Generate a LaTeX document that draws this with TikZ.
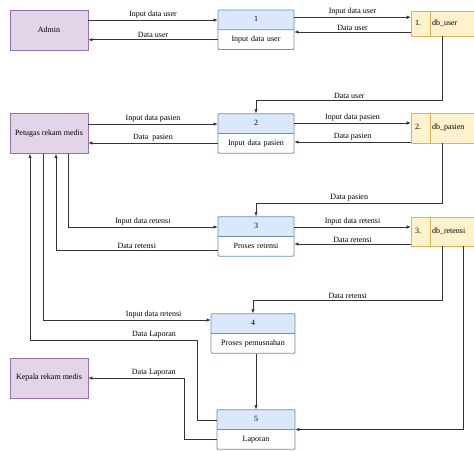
\documentclass[tikz,border=0pt]{standalone}
\usepackage{fontspec}
\setmainfont{Liberation Serif}
\usetikzlibrary{shapes.multipart,arrows.meta}
\definecolor{entfill}{HTML}{E1D5E7}
\definecolor{entline}{HTML}{9673A6}
\definecolor{procfill}{HTML}{DAE8FC}
\definecolor{procline}{HTML}{6C8EBF}
\definecolor{dsfill}{HTML}{FFF2CC}
\definecolor{dsline}{HTML}{D6B656}
\newcommand{\fs}{\fontsize{8}{9.6}\selectfont}

\begin{document}
\begin{tikzpicture}[
    x=1pt, y=-1pt,
    entitas/.style={draw=entline, fill=entfill, line width=0.8pt, minimum width=78pt, minimum height=40pt, font=\fs},
    proses/.style={rectangle split, rectangle split parts=2, draw=procline, line width=0.8pt, rectangle split part fill={procfill,white}, rounded corners=1pt, text width=70pt, align=center, inner xsep=3pt, inner ysep=4.7pt, font=\fs},
    simpan/.style={draw=dsline, fill=dsfill, line width=0.6pt, minimum width=63pt, minimum height=28pt, text width=63pt, inner xsep=0pt, align=left, font=\fs,
      path picture={\draw[dsline, line width=0.6pt] ([xshift=19pt]path picture bounding box.north west) -- ([xshift=19pt]path picture bounding box.south west);}},
    alir/.style={-{Latex[length=4pt,width=3.5pt]}, black!80, line width=0.6pt},
    ket/.style={above=0.5pt, font=\fs, inner sep=1pt, text=black}
  ]
    \useasboundingbox (0,0) rectangle (474,450);

    \node[entitas] (admin) at (49,30) {Admin};
    \node[entitas] (petugas) at (49,133.5) {Petugas rekam medis};
    \node[entitas] (kepala) at (49,378) {Kepala rekam medis};

    \node[proses] (p1) at (256,29.75) {\strut 1\nodepart{two}\strut Input data user};
    \node[proses] (p2) at (256,133.5) {\strut 2\nodepart{two}\strut Input data pasien};
    \node[proses] (p3) at (256,236.5) {\strut 3\nodepart{two}\strut Proses retensi};
    \node[proses, text width=78pt] (p4) at (253,333.5) {\strut 4\nodepart{two}\strut Proses pemusnahan};
    \node[proses, text width=72pt] (p5) at (256,429.5) {\strut 5\nodepart{two}\strut Laporan};

    \node[simpan, minimum height=25pt] (db1) at (442.5,23.5) {\makebox[19pt][l]{\hspace{4pt}1.}\hspace{2pt}db\_user};
    \node[simpan, minimum height=30pt] (db2) at (442.5,128) {\makebox[19pt][l]{\hspace{4pt}2.}\hspace{2pt}db\_pasien};
    \node[simpan, minimum height=29pt] (db3) at (442.5,231.5) {\makebox[19pt][l]{\hspace{4pt}3.}\hspace{2pt}db\_retensi};

    % user
    \draw[alir] ([yshift=10pt]admin.east) -- node[ket] {Input data user} ([yshift=10pt]admin.east -| p1.west);
    \draw[alir] ([yshift=-10pt]p1.west) -- node[ket] {Data user} ([yshift=-10pt]p1.west -| admin.east);
    \draw[alir] ([yshift=12.5pt]p1.east) -- node[ket] {Input data user} ([yshift=12.5pt]p1.east -| db1.west);
    \draw[alir] ([yshift=-8.5pt]db1.west) -- node[ket] {Data user} ([yshift=-8.5pt]db1.west -| p1.east);
    \draw[alir] (db1.south) -- ++(0,64) -| node[ket, pos=0.25] {Data user} (p2.north);

    % pasien
    \draw[alir] ([yshift=9.5pt]petugas.east) -- node[ket] {Input data pasien} ([yshift=9.5pt]petugas.east -| p2.west);
    \draw[alir] ([yshift=-9.5pt]p2.west) -- node[ket] {Data\ \ pasien} ([yshift=-9.5pt]p2.west -| petugas.east);
    \draw[alir] ([yshift=10.5pt]p2.east) -- node[ket] {Input data pasien} ([yshift=10.5pt]p2.east -| db2.west);
    \draw[alir] ([yshift=-14pt]db2.west) -- node[ket] {Data pasien} ([yshift=-14pt]db2.west -| p2.east);
    \draw[alir] (db2.south) -- ++(0,60) -| node[ket, pos=0.25] {Data pasien} (p3.north);

    % retensi
    \draw[alir] ([yshift=9.5pt]p3.east) -- node[ket] {Input data retensi} ([yshift=9.5pt]p3.east -| db3.west);
    \draw[alir] ([yshift=-12.5pt]db3.west) -- node[ket] {Data retensi} ([yshift=-12.5pt]db3.west -| p3.east);
    \draw[alir] ([xshift=19pt]petugas.south) |- node[ket, pos=0.75] {Input data retensi} ([yshift=9.5pt]p3.west);
    \draw[alir] ([yshift=-13.5pt]p3.west) -| node[ket, pos=0.25] {Data retensi} ([xshift=7pt]petugas.south);
    \draw[alir] ([xshift=-6pt]petugas.south) |- node[ket, pos=0.83] {Input data retensi} ([yshift=13.5pt]p4.west);
    \draw[alir] (db3.south) -- ++(0,54) -| node[ket, pos=0.25] {Data retensi} (p4.north);

    % laporan
    \draw[alir] (p5.north |- p4.south) -- (p5.north);
    \draw[alir] ([xshift=20.5pt]db3.south) |- (p5.east);
    \draw[alir] ([yshift=9.5pt]p5.west) -| ++(-19,-80) -| node[ket, pos=0.13] {Data Laporan} ([xshift=-19pt]petugas.south);
    \draw[alir] ([yshift=-10pt]p5.west) -- ++(-32,0) |- node[ket, pos=0.66] {Data Laporan} (kepala.east);
  \end{tikzpicture}
\end{document}
